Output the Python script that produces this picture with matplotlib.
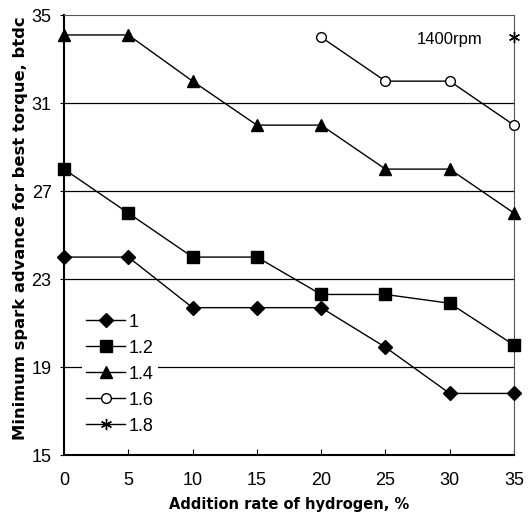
import matplotlib
matplotlib.use('Agg')
import matplotlib.pyplot as plt

plt.rcParams['font.family'] = ['Liberation Sans', 'DejaVu Sans']

x_rate = [0, 5, 10, 15, 20, 25, 30, 35]
phi_1 = [24, 24, 21.7, 21.7, 21.7, 19.9, 17.8, 17.8]
phi_12 = [28, 26, 24, 24, 22.3, 22.3, 21.9, 20]
phi_14 = [34.1, 34.1, 32, 30, 30, 28, 28, 26]
x_16 = [20, 25, 30, 35]
phi_16 = [34, 32, 32, 30]
x_18 = [35]
phi_18 = [34]

fig = plt.figure(figsize=(5.3, 5.23), dpi=100)
ax = fig.add_axes([0.1208, 0.130, 0.849, 0.841])

for yv in [19, 23, 27, 31]:
    ax.axhline(yv, color='black', lw=0.9, zorder=1)

ax.plot(x_rate, phi_1, color='black', lw=1, marker='D', ms=7, label='1', clip_on=False, zorder=3)
ax.plot(x_rate, phi_12, color='black', lw=1, marker='s', ms=8, label='1.2', clip_on=False, zorder=3)
ax.plot(x_rate, phi_14, color='black', lw=1, marker='^', ms=9, label='1.4', clip_on=False, zorder=3)
ax.plot(x_16, phi_16, color='black', lw=1, marker='o', ms=7, mfc='white', label='1.6', clip_on=False, zorder=3)
ax.plot(x_18, phi_18, color='black', lw=1, marker=(6, 2, 0), ms=8, label='1.8', clip_on=False, zorder=3)

ax.text(30, 33.9, '1400rpm', fontsize=12, ha='center', va='center')

ax.set_xlim(0, 35)
ax.set_ylim(15, 35)
ax.set_xticks([0, 5, 10, 15, 20, 25, 30, 35])
ax.set_yticks([15, 19, 23, 27, 31, 35])
ax.tick_params(axis='x', direction='in', length=4, labelsize=13, pad=12)
ax.tick_params(axis='y', direction='out', length=3, labelsize=13, pad=6)

ax.spines['top'].set_linestyle((0, (1, 1)))
ax.spines['right'].set_linestyle((0, (1, 1)))
ax.spines['top'].set_linewidth(0.8)
ax.spines['right'].set_linewidth(0.8)
ax.spines['top'].set_color('#555555')
ax.spines['right'].set_color('#555555')
ax.spines['left'].set_linewidth(1.5)
ax.spines['bottom'].set_linewidth(1.5)

ax.set_xlabel('Addition rate of hydrogen, %', fontsize=10.5, fontweight='bold',
              family='DejaVu Sans', labelpad=6)
fig.text(0.038, 0.158, 'Minimum spark advance for best torque, btdc', rotation=90,
         fontsize=11.8, fontweight='bold', family='DejaVu Sans', ha='center', va='bottom')

leg = ax.legend(loc='upper left', bbox_to_anchor=(0.02, 0.35), frameon=True,
                fontsize=13, handlelength=2.2, handletextpad=0.2, labelspacing=0.5,
                borderpad=0.2)
leg.get_frame().set_edgecolor('none')
leg.get_frame().set_facecolor('white')
leg.get_frame().set_alpha(1)

fig.savefig('out.png', dpi=100)
